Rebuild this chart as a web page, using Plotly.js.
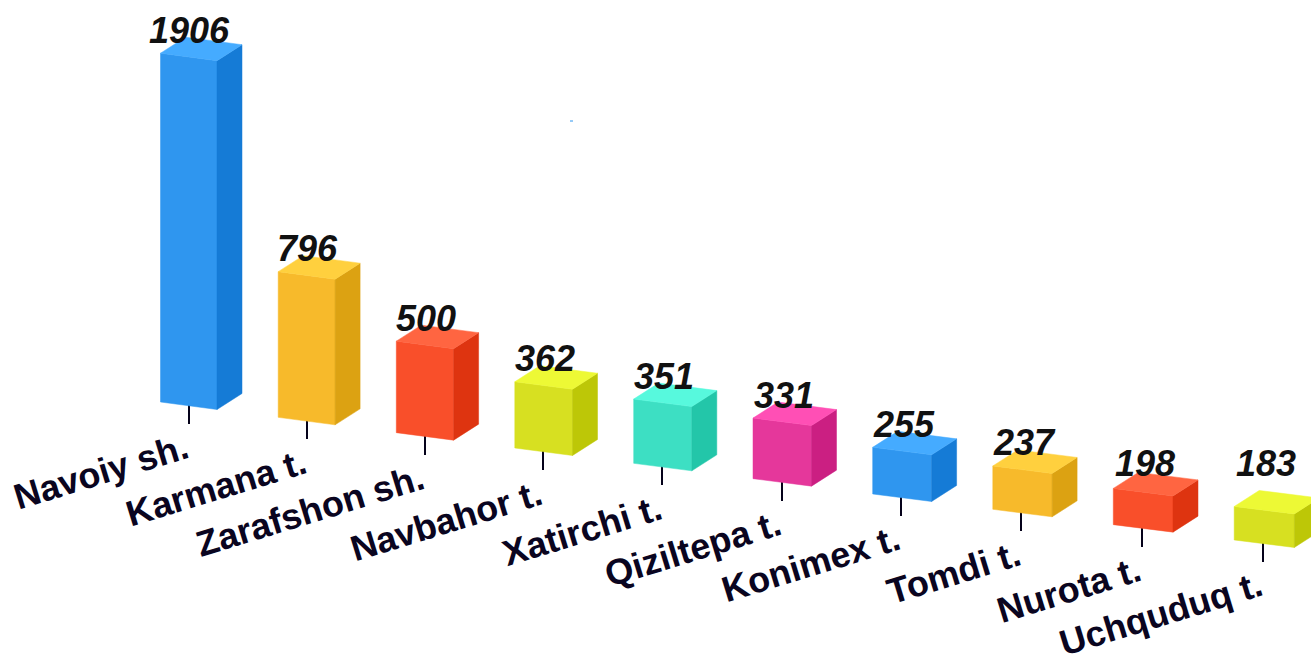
<!DOCTYPE html>
<html>
<head>
<meta charset="utf-8">
<script src="https://cdn.plot.ly/plotly-3.0.1.min.js"></script>
<style>html,body{margin:0;padding:0;background:#fff;overflow:hidden}#chart{width:1311px;height:654px}</style>
</head>
<body>
<div id="chart"></div>
<script>
const categories = ["Navoiy sh.","Karmana t.","Zarafshon sh.","Navbahor t.","Xatirchi t.","Qiziltepa t.","Konimex t.","Tomdi t.","Nurota t.","Uchquduq t."];
const values = [1906,796,500,362,351,331,255,237,198,183];
const frontColors = ["#2f96ef","#f7ba2b","#f94f2a","#d7e021","#3ddfc3","#e5379b"];
const sideColors  = ["#157bd6","#dca212","#de3410","#bdc707","#23c6a9","#cb1f82"];
const topColors   = ["#45abff","#ffd03e","#ff6541","#edf935","#57f9dd","#ff4fb5"];

// Oblique projection of the chart's 3D space onto the page.
const W = 1311, H = 654;
const pxPerUnit = 0.183;
const baseX = i => 160.5 + 117.5*i + 0.2*i*i;
const baseY = i => 402 + 15.33*i;
const frontW = i => 56.5 + 0.4*i;
const frontDrop = 7.5, depthX = 25, depthY = -16;
const project = (i, value, u, d) => [
  baseX(i) + u*frontW(i) + d*depthX,
  baseY(i) - value*pxPerUnit + u*frontDrop + d*depthY
];
const poly = (corners, color) => {
  const pts = corners.concat([corners[0]]);
  return {
    type:"scatter", mode:"lines", x:pts.map(p=>p[0]), y:pts.map(p=>p[1]),
    fill:"toself", fillcolor:color, line:{color:color,width:0.5},
    hoverinfo:"skip", showlegend:false
  };
};

const traces = [], annotations = [];
categories.forEach((name,i)=>{
  const v = values[i], c = i % frontColors.length;
  const cx = Math.round(baseX(i) + 28.5), tickEnd = Math.round(424 + 15.33*i);
  traces.push({type:"scatter",mode:"lines",x:[cx,cx],y:[baseY(i)+2,tickEnd],
    line:{color:"#05021a",width:2},hoverinfo:"skip",showlegend:false});
  traces.push(poly([project(i,v,0,0),project(i,v,1,0),project(i,0,1,0),project(i,0,0,0)],frontColors[c]));
  traces.push(poly([project(i,v,1,0),project(i,v,1,1),project(i,0,1,1),project(i,0,1,0)],sideColors[c]));
  traces.push(poly([project(i,v,0,0),project(i,v,1,0),project(i,v,1,1),project(i,v,0,1)],topColors[c]));
  const tl = project(i,v,0,0);
  annotations.push({x:tl[0]+29+0.35*i,y:Math.min(tl[1]-23,463),xref:"x",yref:"y",xanchor:"center",yanchor:"middle",
    text:"<b><i>"+v+"</i></b>",showarrow:false,
    font:{family:"Liberation Sans, Arial, sans-serif",size:36,color:"#111111"}});
  annotations.push({x:cx+6.5,y:tickEnd-1,xref:"x",yref:"y",xanchor:"right",yanchor:"top",
    text:"<b>"+name+"</b>",textangle:-17,showarrow:false,
    font:{family:"Liberation Sans, Arial, sans-serif",size:36,color:"#0a0520"}});
});

const layout = {
  width:W,height:H,margin:{l:0,r:0,t:0,b:0},
  paper_bgcolor:"#ffffff",plot_bgcolor:"#ffffff",showlegend:false,
  xaxis:{range:[0,W],visible:false,fixedrange:true},
  yaxis:{range:[H,0],visible:false,fixedrange:true},
  annotations:annotations,
  shapes:[{type:"line",xref:"x",yref:"y",x0:570,x1:573,y0:121,y1:121,line:{color:"#2f96ef",width:1}}]
};
Plotly.newPlot("chart",traces,layout,{displayModeBar:false});
</script>
</body>
</html>
